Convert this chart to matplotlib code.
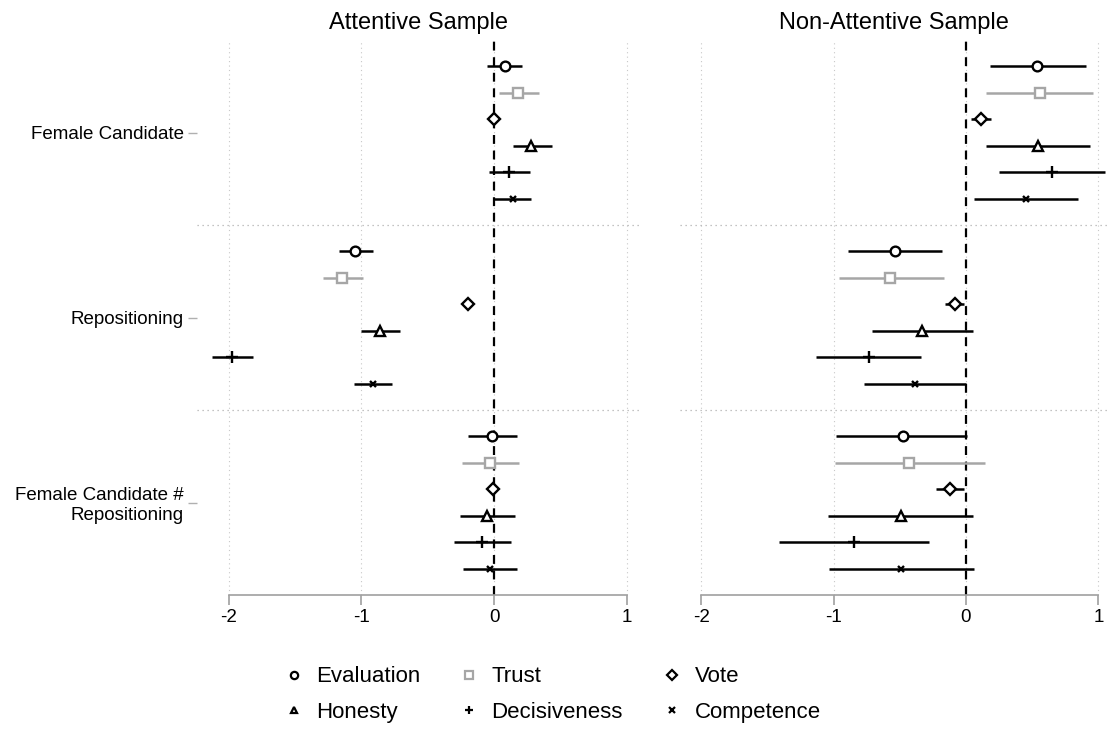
import matplotlib.pyplot as plt
import numpy as np

plt.rcParams['font.family'] = ['Liberation Sans', 'DejaVu Sans']

terms = ["Female Candidate", "Repositioning", "Female Candidate #\nRepositioning"]
outcomes = ["Evaluation", "Trust", "Vote", "Honesty", "Decisiveness", "Competence"]
panels = ["Attentive Sample", "Non-Attentive Sample"]

# rows = terms, columns = outcomes
att_coef = [[0.08, 0.18, 0.00, 0.28, 0.11, 0.14],
            [-1.05, -1.145, -0.196, -0.86, -1.977, -0.91],
            [-0.018, -0.03, -0.005, -0.053, -0.09, -0.03]]
att_lo = [[-0.05, 0.04, -0.02, 0.14, -0.04, -0.005],
          [-1.17, -1.29, -0.225, -1.0, -2.13, -1.054],
          [-0.196, -0.244, -0.025, -0.26, -0.30, -0.236]]
att_hi = [[0.21, 0.34, 0.02, 0.435, 0.27, 0.28],
          [-0.915, -0.99, -0.17, -0.71, -1.82, -0.77],
          [0.17, 0.19, 0.015, 0.16, 0.13, 0.17]]

non_coef = [[0.54, 0.557, 0.113, 0.544, 0.647, 0.456],
            [-0.539, -0.57, -0.086, -0.33, -0.733, -0.383],
            [-0.479, -0.428, -0.118, -0.494, -0.849, -0.489]]
non_lo = [[0.18, 0.153, 0.038, 0.153, 0.247, 0.063],
          [-0.89, -0.962, -0.159, -0.71, -1.13, -0.768],
          [-0.98, -0.99, -0.224, -1.04, -1.41, -1.034]]
non_hi = [[0.905, 0.962, 0.19, 0.935, 1.05, 0.844],
          [-0.184, -0.169, -0.015, 0.055, -0.34, 0.0],
          [0.01, 0.144, -0.015, 0.055, -0.28, 0.06]]

markers = ['o', 's', 'D', '^', '+', 'x']
msizes = [7, 7, 6.5, 6.5, 8, 5]
colors = ['black', '#a6a6a6', 'black', 'black', 'black', 'black']

fig = plt.figure(figsize=(11.13, 7.31), dpi=100)
ax1 = fig.add_axes([197/1113, 1-595/731, 443/1113, 555/731])
ax2 = fig.add_axes([680/1113, 1-595/731, 428/1113, 555/731])

data = [(att_coef, att_lo, att_hi), (non_coef, non_lo, non_hi)]
xlims = [(-2.24, 1.10), (-2.16, 1.073)]

for ax, (coef, lo, hi), title, xl in zip([ax1, ax2], data, panels, xlims):
    for x in [-2, -1, 0, 1]:
        ax.axvline(x, color='#c8c8c8', lw=0.8, ls=(0, (1, 3)), zorder=0)
    for y in [7, 14]:
        ax.axhline(y, color='#b0b0b0', lw=0.9, ls=(0, (1, 3)), zorder=0)
    ax.axvline(0, color='black', lw=1.6, ls=(0, (4, 3)), zorder=1)

    for g in range(3):
        for j in range(6):
            y = g*7 + j + 1
            ax.plot([lo[g][j], hi[g][j]], [y, y], color=colors[j], lw=1.8, zorder=2,
                    solid_capstyle='butt')
            ax.plot(coef[g][j], y, marker=markers[j], ms=msizes[j], mfc='white' if markers[j] not in '+x' else colors[j],
                    mec=colors[j], mew=1.7, ls='none', zorder=3)

    ax.set_xlim(*xl)
    ax.set_ylim(21, 0)
    ax.set_title(title, fontsize=17, pad=8)
    for s in ['top', 'right', 'left']:
        ax.spines[s].set_visible(False)
    ax.spines['bottom'].set_bounds(-2, 1)
    ax.spines['bottom'].set_color('#a0a0a0')
    ax.spines['bottom'].set_linewidth(1.2)
    ax.set_xticks([-2, -1, 0, 1])
    ax.set_xticklabels(['-2', '-1', '0', '1'])
    ax.tick_params(axis='x', colors='#a0a0a0', labelcolor='black', labelsize=13.5,
                   length=7, width=1.2, pad=3)

ax1.set_yticks([3.5, 10.5, 17.5])
ax1.set_yticklabels(terms, fontsize=13.5)
ax1.tick_params(axis='y', colors='#b0b0b0', labelcolor='black', length=6.5, width=1.0, pad=3)
ax2.set_yticks([])

handles = []
for j in range(6):
    h, = ax1.plot([], [], marker=markers[j], ms=msizes[j]*0.75, mfc='white' if markers[j] not in '+x' else colors[j],
                  mec=colors[j], mew=1.6, ls='none', label=outcomes[j])
    handles.append(h)
order = [0, 3, 1, 4, 2, 5]
fig.legend([handles[i] for i in order], [outcomes[i] for i in order], ncol=3,
           loc='center', bbox_to_anchor=(0.4955, 0.05), frameon=False,
           fontsize=16, handlelength=1.0, handletextpad=0.5, columnspacing=1.72,
           labelspacing=0.64)

fig.savefig('out.png', dpi=100)
